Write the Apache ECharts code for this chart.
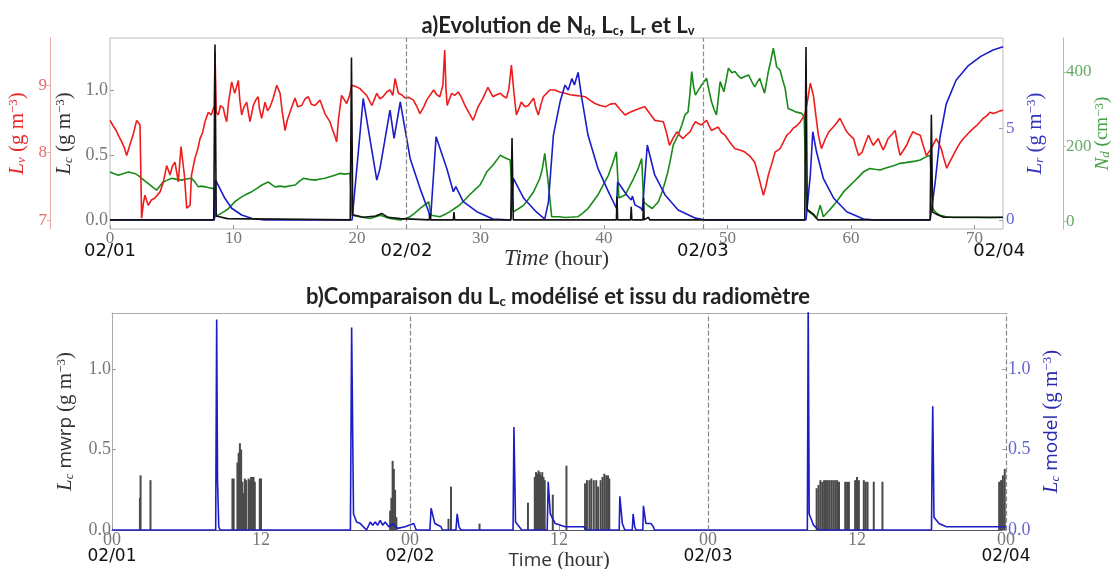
<!DOCTYPE html>
<html><head><meta charset="utf-8">
<script src="https://cdn.jsdelivr.net/npm/echarts@6/dist/echarts.min.js"></script>
<style>html,body{margin:0;padding:0;background:#fff}#c{width:1116px;height:569px}</style>
</head><body><div id="c"></div>
<script>
// ---------- ticks / labels ----------
const hourTicksTop = [0,10,20,30,40,50,60,70];
const hourTicksBottom = [0,12,24,36,48,60,72];
const hourLabelsBottom = ['00','12','00','12','00','12','00'];
const dateTicks = [0,24,48,72];
const dateLabels = ['02/01','02/02','02/03','02/04'];
const dayLinesTop = [24,48];
const dayLinesBottom = [24,48,72];
const lvTicks = [7,8,9];
const lcTicks = [0,0.5,1.0];
const lrTicks = [0,5];
const ndTicks = [0,200,400];
const lcModelTicks = [0,0.5,1.0];

// ---------- panel a : [hour, value] ----------
const lv = [[0,8.48],[0.25,8.40],[0.5,8.33],[0.7,8.25],[0.95,8.16],[1.15,8.08],[1.35,7.96],[1.6,8.11],[1.85,8.25],[2.16,8.48],[2.43,8.41],[2.56,7.03],[2.7,7.25],[2.83,7.37],[3.1,7.22],[3.35,7.30],[3.64,7.33],[4.05,7.42],[4.3,7.55],[4.59,7.81],[4.86,7.67],[5.05,7.80],[5.26,7.86],[5.53,7.57],[5.75,8.09],[6.02,7.67],[6.21,7.18],[6.48,7.22],[6.6,7.67],[6.88,7.92],[7.1,8.05],[7.29,8.21],[7.5,8.30],[7.69,8.46],[7.96,8.60],[8.2,8.56],[8.45,8.7],[8.5,9.5],[8.6,8.6],[8.77,8.56],[8.95,8.70],[9.18,8.66],[9.3,8.55],[9.45,8.46],[9.6,8.75],[9.85,9.05],[10.1,8.88],[10.39,9.07],[10.5,8.80],[10.66,8.56],[10.85,8.68],[11.07,8.75],[11.2,8.60],[11.34,8.46],[11.6,8.70],[11.8,8.78],[12.0,8.83],[12.1,8.65],[12.28,8.51],[12.55,8.75],[12.75,8.62],[12.96,8.68],[13.2,8.80],[13.5,9.0],[13.77,8.88],[13.95,8.60],[14.17,8.33],[14.35,8.48],[14.57,8.60],[14.8,8.72],[14.98,8.81],[15.2,8.68],[15.52,8.70],[15.8,8.80],[16.06,8.83],[16.3,8.72],[16.6,8.70],[17.0,8.78],[17.2,8.68],[17.4,8.58],[17.6,8.52],[17.8,8.46],[18.0,8.35],[18.2,8.25],[18.35,8.16],[18.5,8.50],[18.75,8.85],[19.16,8.73],[19.4,8.85],[19.57,9.0],[19.9,8.98],[20.24,8.95],[20.5,8.90],[20.78,8.85],[21.2,8.70],[21.6,8.88],[21.85,8.80],[22.1,8.83],[22.4,8.90],[22.67,8.93],[22.9,8.85],[23.08,9.1],[23.35,8.88],[23.6,8.86],[23.9,8.81],[24.2,8.82],[24.56,8.78],[24.8,8.70],[25.1,8.58],[25.4,8.68],[25.64,8.78],[25.9,8.85],[26.2,8.93],[26.45,8.86],[26.7,8.83],[26.95,9.0],[27.1,9.52],[27.2,8.95],[27.3,8.70],[27.66,8.88],[27.9,8.85],[28.2,8.90],[28.45,8.82],[28.74,8.70],[29.1,8.58],[29.4,8.48],[29.8,8.68],[30.2,8.81],[30.6,8.97],[31.0,8.83],[31.3,8.86],[31.6,8.88],[31.85,8.84],[32.1,8.81],[32.3,8.95],[32.5,9.30],[32.7,8.90],[32.9,8.56],[33.1,8.65],[33.3,8.75],[33.6,8.68],[33.87,8.70],[34.1,8.76],[34.3,8.81],[34.5,8.65],[34.68,8.56],[34.9,8.72],[35.08,8.83],[35.35,8.88],[35.6,8.93],[36.0,8.93],[36.4,8.90],[36.84,8.88],[37.25,8.86],[37.65,8.85],[38.05,8.84],[38.46,8.83],[38.85,8.78],[39.27,8.73],[39.7,8.70],[40.1,8.68],[40.5,8.72],[40.9,8.73],[41.3,8.64],[41.7,8.56],[42.1,8.60],[42.5,8.63],[42.9,8.66],[43.3,8.68],[43.7,8.58],[44.1,8.48],[44.45,8.47],[44.8,8.46],[45.05,8.30],[45.3,8.11],[45.6,8.22],[45.9,8.31],[46.15,8.25],[46.4,8.21],[46.7,8.27],[46.96,8.31],[47.2,8.40],[47.4,8.46],[47.65,8.43],[47.9,8.41],[48.1,8.45],[48.3,8.48],[48.5,8.40],[48.7,8.33],[49.0,8.36],[49.25,8.38],[49.5,8.30],[49.8,8.26],[50.2,8.15],[50.6,8.06],[51.0,8.04],[51.4,8.01],[51.8,7.95],[52.2,7.86],[52.55,7.62],[52.9,7.37],[53.1,7.50],[53.3,7.67],[53.6,7.85],[53.85,8.01],[54.25,8.06],[54.5,8.15],[54.8,8.26],[55.05,8.30],[55.3,8.36],[55.6,8.40],[55.9,8.46],[56.1,8.52],[56.3,8.60],[56.5,8.80],[56.7,9.03],[56.95,8.85],[57.15,8.55],[57.35,8.26],[57.6,8.06],[57.9,8.20],[58.2,8.31],[58.45,8.36],[58.7,8.41],[58.9,8.46],[59.1,8.51],[59.4,8.40],[59.65,8.31],[59.9,8.26],[60.2,8.21],[60.4,8.08],[60.6,7.96],[60.9,8.01],[61.15,8.14],[61.4,8.26],[61.6,8.18],[61.8,8.11],[62.0,8.16],[62.2,8.21],[62.4,8.12],[62.6,8.04],[62.8,8.12],[63.0,8.21],[63.3,8.27],[63.56,8.33],[63.8,8.10],[63.97,7.96],[64.25,8.04],[64.5,8.11],[64.75,8.22],[65.0,8.31],[65.3,8.28],[65.6,8.26],[65.85,8.10],[66.1,7.96],[66.3,8.01],[66.5,8.06],[66.7,8.14],[66.9,8.21],[67.1,8.14],[67.3,8.06],[67.5,7.92],[67.75,7.77],[67.95,7.85],[68.15,7.92],[68.35,7.99],[68.55,8.06],[68.8,8.14],[69.1,8.21],[69.35,8.26],[69.6,8.31],[69.9,8.36],[70.2,8.41],[70.45,8.46],[70.7,8.51],[71.0,8.55],[71.25,8.60],[71.5,8.58],[71.8,8.60],[72.05,8.62],[72.3,8.63]];

const nd = [[0,132],[0.3,128],[0.67,123],[1.1,128],[1.5,132],[2.0,128],[2.3,122],[2.56,115],[2.9,106],[3.24,97],[3.5,90],[3.78,83],[4.05,95],[4.3,105],[4.65,110],[5.0,115],[5.4,112],[5.8,110],[6.2,113],[6.6,115],[6.9,104],[7.15,92],[7.4,94],[7.7,92],[7.95,90],[8.23,88],[8.45,88],[8.5,12],[9.0,21],[9.3,27],[9.6,34],[9.85,43],[10.1,52],[10.4,59],[10.66,65],[11.05,72],[11.47,79],[11.9,88],[12.3,97],[12.55,101],[12.8,105],[13.1,98],[13.36,92],[13.75,94],[14.17,92],[14.6,95],[15.0,97],[15.3,106],[15.65,115],[16.1,112],[16.6,110],[17.0,113],[17.4,115],[17.8,119],[18.2,123],[18.6,128],[19.0,126],[19.43,128],[19.6,16],[19.9,14],[20.24,12],[20.65,9],[21.05,7],[21.5,12],[21.9,16],[22.3,11],[22.67,7],[23.1,5],[23.5,3],[23.9,7],[24.3,12],[24.7,22],[25.1,34],[25.45,43],[25.8,52],[26.0,16],[26.35,14],[26.7,12],[27.1,18],[27.5,25],[27.9,34],[28.3,43],[28.7,56],[29.1,70],[29.5,83],[29.96,97],[30.25,115],[30.5,132],[30.75,141],[31.0,150],[31.3,163],[31.6,177],[31.85,172],[32.1,168],[32.4,164],[32.66,25],[33.1,34],[33.5,43],[33.9,60],[34.3,79],[34.55,97],[34.8,115],[35.0,140],[35.2,182],[35.35,140],[35.5,97],[35.76,12],[36.4,12],[36.84,10],[37.4,11],[37.9,12],[38.3,22],[38.7,34],[39.1,52],[39.5,70],[39.9,95],[40.35,123],[40.7,155],[41.0,186],[41.2,62],[41.7,70],[42.05,92],[42.4,115],[42.75,140],[43.05,168],[43.2,52],[43.55,42],[43.9,34],[44.4,52],[44.7,78],[44.94,105],[45.15,130],[45.34,159],[45.6,204],[46.0,231],[46.3,258],[46.56,285],[46.8,293],[46.95,340],[47.1,401],[47.25,360],[47.4,338],[47.65,352],[47.9,365],[48.1,374],[48.3,383],[48.5,350],[48.7,320],[48.9,300],[49.1,285],[49.25,330],[49.4,374],[49.7,347],[49.9,380],[50.07,410],[50.35,398],[50.6,401],[50.85,390],[51.1,383],[51.4,388],[51.7,392],[51.95,375],[52.2,360],[52.4,372],[52.6,383],[52.8,362],[53.0,343],[53.15,372],[53.3,401],[53.5,430],[53.7,464],[53.85,438],[53.97,414],[54.25,405],[54.45,380],[54.66,356],[54.9,302],[55.2,298],[55.5,293],[55.75,291],[56.0,289],[56.2,280],[56.4,30],[56.7,22],[56.95,16],[57.2,7],[57.5,43],[57.75,12],[58.2,28],[58.6,43],[59.0,60],[59.4,79],[59.8,92],[60.2,105],[60.6,118],[61.0,132],[61.5,141],[61.9,139],[62.35,137],[62.75,142],[63.16,146],[63.55,150],[63.97,155],[64.4,157],[64.8,159],[65.2,161],[65.6,164],[66.1,173],[66.4,177],[66.6,34],[66.9,22],[67.2,16],[67.7,12],[68.3,10],[69.2,10],[70.2,10],[71.2,9],[72.3,10]];

const lr = [[0,0],[8.45,0],[8.55,2.17],[9.3,1.18],[9.85,0.64],[10.66,0.27],[11.5,0.08],[12.5,0],[19.6,0],[20.5,6.61],[21.6,2.17],[21.86,2.81],[22.67,5.98],[23.0,4.44],[23.5,6.43],[24.3,3.35],[25.1,1.72],[25.8,0.45],[25.95,0],[26.4,4.53],[27.26,2.81],[27.8,1.54],[28.0,1.81],[28.6,1.0],[29.7,0.45],[31.0,0.05],[32.45,0],[32.66,2.27],[33.5,1.18],[34.5,0.45],[35.2,0.05],[35.5,1.0],[35.9,4.62],[36.44,6.43],[36.84,7.34],[37.1,7.07],[37.4,7.70],[37.6,7.34],[37.9,8.03],[38.2,6.61],[38.7,4.62],[39.5,2.81],[40.35,1.54],[41.0,0.64],[41.1,2.08],[41.84,1.36],[42.2,1.09],[42.3,1.3],[42.5,0.82],[43.0,0.64],[43.1,0.5],[43.5,4.08],[44.1,2.45],[44.94,1.36],[46.0,0.54],[47.4,0.1],[48.2,0],[56.35,0],[56.7,2.45],[56.9,4.8],[57.2,3.71],[57.75,2.27],[58.6,1.18],[59.65,0.45],[61.0,0.05],[62.0,0],[66.4,0],[66.6,1.0],[66.8,2.0],[67.2,4.5],[67.7,6.3],[68.5,7.6],[69.5,8.4],[70.5,8.9],[71.5,9.25],[72.3,9.42]];

const lc = [[0,0],[8.4,0],[8.5,1.35],[8.6,0.03],[9.5,0.01],[19.45,0],[19.55,1.25],[19.65,0.04],[20.5,0.02],[21.5,0.03],[22.0,0.05],[22.5,0.02],[23.5,0.01],[25.85,0],[25.9,0.05],[25.95,0],[27.8,0],[27.85,0.06],[27.9,0],[32.45,0],[32.55,0.63],[32.65,0],[41.0,0],[41.05,0.18],[41.1,0],[42.15,0],[42.2,0.10],[42.25,0],[43.15,0],[43.2,0.17],[43.25,0],[43.6,0.02],[43.7,0],[56.25,0],[56.35,1.33],[56.45,0.08],[57.0,0.04],[57.3,0],[66.4,0],[66.5,0.81],[66.6,0.06],[67.0,0.04],[67.5,0.02],[72.3,0.02]];

// ---------- panel b : [hour, value] ----------
const mwrp = [[2.25,0.20],[2.3,0.34],[3.1,0.31],
[9.7,0.32],[9.8,0.32],[10.1,0.42],[10.2,0.48],[10.3,0.54],[10.4,0.50],[10.5,0.30],[10.6,0.23],[10.7,0.32],[10.8,0.31],[11.0,0.32],[11.1,0.31],[11.2,0.33],[11.3,0.33],[11.4,0.33],[11.5,0.30],[11.9,0.32],[12.0,0.32],
[22.4,0.12],[22.5,0.20],[22.6,0.43],[22.7,0.38],[22.8,0.25],[22.9,0.08],
[27.1,0.07],[27.3,0.27],[29.6,0.04],[33.5,0.17],
[34.05,0.33],[34.15,0.36],[34.25,0.35],[34.35,0.37],[34.45,0.36],[34.55,0.34],[34.65,0.36],[34.75,0.33],[34.85,0.31],
[35.5,0.22],[36.6,0.40],
[38.1,0.29],[38.25,0.31],[38.45,0.31],[38.6,0.32],[38.8,0.31],[39.0,0.31],[39.15,0.27],[39.35,0.31],[39.5,0.33],[39.65,0.35],[39.8,0.34],[39.95,0.34],[40.05,0.32],
[56.75,0.26],[56.9,0.28],[57.05,0.31],[57.2,0.30],[57.35,0.31],[57.5,0.31],[57.65,0.31],[57.8,0.31],[57.95,0.31],[58.1,0.31],[58.25,0.31],[58.4,0.31],[58.55,0.30],
[59.05,0.30],[59.2,0.30],[59.35,0.30],[59.85,0.31],[60.0,0.33],[60.15,0.31],[60.55,0.31],[60.7,0.30],[60.85,0.30],[61.35,0.30],[62.05,0.30],
[71.45,0.30],[71.6,0.31],[71.75,0.34],[71.9,0.38]];

const lcModel = [[0,0],[8.35,0],[8.43,1.31],[8.5,0.3],[8.6,0.02],[8.7,0],[19.2,0],[19.3,1.26],[19.45,0.1],[19.7,0.05],[20.0,0.04],[20.5,0],[20.8,0.05],[21.0,0.03],[21.2,0.05],[21.4,0.03],[21.6,0.06],[21.8,0.03],[22.0,0.05],[22.3,0.02],[22.6,0.04],[23.0,0.01],[23.6,0.02],[24.3,0.04],[24.5,0],[25.6,0],[25.7,0.135],[26.0,0.04],[26.5,0.02],[26.6,0],[27.7,0],[27.8,0.10],[27.95,0.02],[28.1,0],[32.3,0],[32.37,0.64],[32.5,0.05],[32.8,0.02],[33.0,0],[35.05,0],[35.13,0.30],[35.3,0.10],[35.7,0.04],[36.5,0.02],[38.0,0.02],[38.2,0],[40.85,0],[40.9,0.21],[41.1,0.04],[41.3,0],[41.9,0],[41.97,0.10],[42.1,0.02],[42.2,0],[42.75,0],[42.8,0.15],[43.0,0.04],[43.4,0.04],[43.6,0.02],[43.7,0],[56.0,0],[56.07,1.4],[56.15,0.10],[56.5,0.03],[56.9,0],[66.0,0],[66.05,0.45],[66.1,0.77],[66.2,0.08],[66.6,0.04],[67.2,0.02],[72,0.02]];

// ---------- styling helpers ----------
const SERIF = 'Liberation Serif';
const SANS = 'Open Sans';
function nameRich(color, big){
  const b = big || 21;
  return {
    i:{fontFamily:SERIF,fontStyle:'italic',fontSize:b,color:color},
    s:{fontFamily:SERIF,fontStyle:'italic',fontSize:13,color:color,verticalAlign:'bottom'},
    r:{fontFamily:SERIF,fontSize:b,color:color},
    p:{fontFamily:SERIF,fontSize:13,color:color,verticalAlign:'top'},
    t:{fontFamily:SANS,fontSize:19,color:color}
  };
}
const tickLbl = (color, size) => ({fontFamily:SERIF, fontSize:size||17, color:color});
const dashed = vals => ({symbol:['none','none'], silent:true, label:{show:false}, animation:false,
  lineStyle:{type:'dashed', color:'#888', width:1.2}, data: vals.map(v => ({xAxis:v}))});
const titleStyle = {fontFamily:'Lato', fontWeight:'bold', fontSize:22, color:'#222',
  rich:{s:{fontFamily:'Lato', fontWeight:'bold', fontSize:13, color:'#222', verticalAlign:'bottom'}}};

const chart = echarts.init(document.getElementById('c'), null, {renderer:'canvas'});
chart.setOption({
  animation:false,
  backgroundColor:'#fff',
  title:[
    {text:'a)Evolution de N{s|d}, L{s|c}, L{s|r} et L{s|v}', left:'center', top:10, textStyle:titleStyle},
    {text:'b)Comparaison du L{s|c} modélisé et issu du radiomètre', left:'center', top:281, textStyle:titleStyle}
  ],
  grid:[
    {left:110, top:38, width:893, height:191, show:true, borderColor:'#bbb', borderWidth:1, backgroundColor:'#fff', outerBoundsMode:'none', containLabel:false},
    {left:112, top:313, width:894, height:217, show:false, outerBoundsMode:'none', containLabel:false}
  ],
  xAxis:[
    {gridIndex:0, type:'value', min:0, max:72.3, position:'bottom',
     axisLine:{show:false, onZero:false}, splitLine:{show:false},
     axisTick:{show:true, inside:true, length:4, customValues:hourTicksTop, lineStyle:{color:'#999'}},
     axisLabel:Object.assign({customValues:hourTicksTop, margin:1}, tickLbl('#777',17)),
     name:'{i|Time}{r| (hour)}', nameLocation:'middle', nameGap:13,
     nameTextStyle:{rich:{i:{fontFamily:SERIF,fontStyle:'italic',fontSize:23,color:'#333'}, r:{fontFamily:SERIF,fontSize:22,color:'#333'}}}},
    {gridIndex:0, type:'value', min:0, max:72.3, position:'bottom',
     axisLine:{show:false, onZero:false}, axisTick:{show:false}, splitLine:{show:false},
     axisLabel:{customValues:dateTicks, margin:13, formatter:v => dateLabels[dateTicks.indexOf(v)],
       fontFamily:'DejaVu Sans', fontSize:18, color:'#111'}},
    {gridIndex:1, type:'value', min:0, max:72, position:'bottom',
     axisLine:{show:true, onZero:false, lineStyle:{color:'#556', width:1}}, splitLine:{show:false},
     axisTick:{show:true, inside:true, length:4, customValues:hourTicksBottom, lineStyle:{color:'#999'}},
     axisLabel:Object.assign({customValues:hourTicksBottom, margin:1, formatter:v => hourLabelsBottom[hourTicksBottom.indexOf(v)]}, tickLbl('#777',18)),
     name:'{t|Time}{r| (hour)}', nameLocation:'middle', nameGap:16,
     nameTextStyle:{rich:{t:{fontFamily:SANS,fontSize:19,color:'#333'}, r:{fontFamily:SERIF,fontSize:21,color:'#333'}}}},
    {gridIndex:1, type:'value', min:0, max:72, position:'bottom',
     axisLine:{show:false, onZero:false}, axisTick:{show:false}, splitLine:{show:false},
     axisLabel:{customValues:dateTicks, margin:18, formatter:v => dateLabels[dateTicks.indexOf(v)],
       fontFamily:'DejaVu Sans', fontSize:17, color:'#111'}},
    {gridIndex:1, type:'value', min:0, max:72, position:'top',
     axisLine:{show:true, onZero:false, lineStyle:{color:'#aaa'}}, axisTick:{show:false}, axisLabel:{show:false}, splitLine:{show:false}}
  ],
  yAxis:[
    // 0: Lc (panel a, left)
    {gridIndex:0, type:'value', position:'left', min:-0.07, max:1.4,
     axisLine:{show:false, onZero:false}, splitLine:{show:false},
     axisTick:{show:true, inside:true, length:4, customValues:lcTicks, lineStyle:{color:'#999'}},
     axisLabel:Object.assign({customValues:lcTicks, margin:2, formatter:v => v.toFixed(1)}, tickLbl('#777',18)),
     name:'{i|L}{s|c}{r| (g m}{p|−3}{r|)}', nameLocation:'middle', nameRotate:90, nameGap:32,
     nameTextStyle:{rich:nameRich('#333')}},
    // 1: Lv (panel a, far left)
    {gridIndex:0, type:'value', position:'left', offset:60, min:6.87, max:9.70,
     axisLine:{show:true, onZero:false, lineStyle:{color:'#eaa', width:1}}, splitLine:{show:false},
     axisTick:{show:true, length:3, customValues:lvTicks, lineStyle:{color:'#eaa'}},
     axisLabel:Object.assign({customValues:lvTicks, margin:3}, tickLbl('#e86a6a',17)),
     name:'{i|L}{s|v}{r| (g m}{p|−3}{r|)}', nameLocation:'middle', nameRotate:90, nameGap:22,
     nameTextStyle:{rich:nameRich('#e82828')}},
    // 2: Lr (panel a, right)
    {gridIndex:0, type:'value', position:'right', min:-0.49, max:9.9,
     axisLine:{show:false, onZero:false}, splitLine:{show:false},
     axisTick:{show:true, inside:true, length:4, customValues:lrTicks, lineStyle:{color:'#99c'}},
     axisLabel:Object.assign({customValues:lrTicks, margin:3}, tickLbl('#6666cc',17)),
     name:'{i|L}{s|r}{r| (g m}{p|−3}{r|)}', nameLocation:'middle', nameRotate:90, nameGap:15,
     nameTextStyle:{rich:nameRich('#3333bb')}},
    // 3: Nd (panel a, far right)
    {gridIndex:0, type:'value', position:'right', offset:60, min:-21, max:491,
     axisLine:{show:true, onZero:false, lineStyle:{color:'#9c9', width:1}}, splitLine:{show:false},
     axisTick:{show:true, length:3, customValues:ndTicks, lineStyle:{color:'#9c9'}},
     axisLabel:Object.assign({customValues:ndTicks, margin:3}, tickLbl('#66aa66',17)),
     name:'{i|N}{s|d}{r| (cm}{p|−3}{r|)}', nameLocation:'middle', nameRotate:90, nameGap:30, nameMoveOverlap:false,
     nameTextStyle:{rich:nameRich('#44a044', 19)}},
    // 4: Lc mwrp (panel b, left)
    {gridIndex:1, type:'value', position:'left', min:0, max:1.35,
     axisLine:{show:true, onZero:false, lineStyle:{color:'#aaa'}}, splitLine:{show:false},
     axisTick:{show:true, inside:true, length:4, customValues:lcTicks, lineStyle:{color:'#999'}},
     axisLabel:Object.assign({customValues:lcTicks, margin:1, formatter:v => v.toFixed(1)}, tickLbl('#777',18)),
     name:'{i|L}{s|c}{t| mwrp }{r|(g m}{p|−3}{r|)}', nameLocation:'middle', nameRotate:90, nameGap:36,
     nameTextStyle:{rich:nameRich('#333')}},
    // 5: Lc model (panel b, right)
    {gridIndex:1, type:'value', position:'right', min:0, max:1.35,
     axisLine:{show:false, onZero:false}, splitLine:{show:false},
     axisTick:{show:true, inside:true, length:4, customValues:lcModelTicks, lineStyle:{color:'#99c'}},
     axisLabel:Object.assign({customValues:lcModelTicks, margin:2, formatter:v => v.toFixed(1)}, tickLbl('#6666cc',18)),
     name:'{i|L}{s|c}{t| model }{r|(g m}{p|−3}{r|)}', nameLocation:'middle', nameRotate:90, nameGap:31,
     nameTextStyle:{rich:nameRich('#2a2ab0')}}
  ],
  series:[
    {name:'Nd', type:'line', xAxisIndex:0, yAxisIndex:3, data:nd, showSymbol:false, z:2,
     lineStyle:{color:'#178a17', width:1.6}, itemStyle:{color:'#178a17'}},
    {name:'Lv', type:'line', xAxisIndex:0, yAxisIndex:1, data:lv, showSymbol:false, z:3,
     lineStyle:{color:'#ee1c1c', width:1.6}, itemStyle:{color:'#ee1c1c'}},
    {name:'Lr', type:'line', xAxisIndex:0, yAxisIndex:2, data:lr, showSymbol:false, z:4,
     lineStyle:{color:'#1c1cc8', width:1.6}, itemStyle:{color:'#1c1cc8'}},
    {name:'Lc', type:'line', xAxisIndex:0, yAxisIndex:0, data:lc, showSymbol:false, z:5,
     lineStyle:{color:'#111', width:1.6}, itemStyle:{color:'#111'}, markLine:dashed(dayLinesTop)},
    {name:'Lc mwrp', type:'bar', xAxisIndex:2, yAxisIndex:4, data:mwrp, barWidth:2, z:2,
     itemStyle:{color:'#4a4a4a'}, markLine:dashed(dayLinesBottom)},
    {name:'Lc model', type:'line', xAxisIndex:2, yAxisIndex:5, data:lcModel, showSymbol:false, z:4,
     lineStyle:{color:'#1c1cc8', width:1.6}, itemStyle:{color:'#1c1cc8'}}
  ]
});
</script>
</body></html>
